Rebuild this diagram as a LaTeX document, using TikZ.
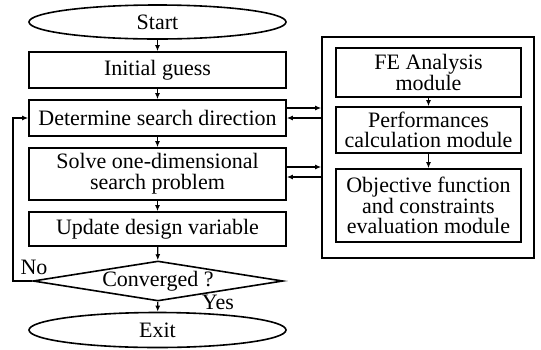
\documentclass[tikz,border=0pt]{standalone}
\usepackage{fontspec}
\setmainfont{Liberation Serif}
\usetikzlibrary{shapes.geometric,arrows.meta}

\begin{document}
\begin{tikzpicture}[x=0.5pt,y=-0.5pt,
  every node/.style={font=\fontsize{11pt}{10.3pt}\selectfont, align=center, inner sep=0pt},
  term/.style={draw, ellipse, line width=0.8pt, minimum width=128.5pt, minimum height=17pt},
  stepbox/.style={draw, rectangle, line width=0.8pt, minimum width=128.5pt},
  modbox/.style={draw, rectangle, line width=0.8pt, minimum width=92.5pt},
  arr/.style={-{Latex[length=3pt,width=2.5pt]}, line width=0.6pt}]
\useasboundingbox (0,0) rectangle (541,349);

% main loop
\node[term] (start) at (157.5,22) {Start};
\node[stepbox, minimum height=18pt] (init) at (157.5,70) {Initial guess};
\node[stepbox, minimum height=18pt] (dir) at (157.5,118) {Determine search direction};
\node[stepbox, minimum height=26pt] (solve) at (157.5,174) {Solve one-dimensional\\search problem};
\node[stepbox, minimum height=17pt] (upd) at (157.5,229) {Update design variable};
\node[draw, diamond, aspect=6, line width=0.8pt, minimum width=125pt, minimum height=20pt] (conv) at (158,281) {Converged ?};
\node[term, minimum height=17.5pt] (exit) at (157.5,330) {Exit};

\node (no) at (34,267) {No};
\node (yes) at (218,302) {Yes};

\draw[arr] (start) -- (init);
\draw[arr] (init) -- (dir);
\draw[arr] (dir) -- (solve);
\draw[arr] (solve) -- (upd);
\draw[arr] (upd) -- (conv);
\draw[arr] (conv) -- (exit);
\draw[arr] (conv.west) -- (conv.west -| 13,0) |- (dir.west);

% analysis modules
\node[draw, line width=0.8pt, minimum width=106pt, minimum height=110.5pt] (analysis) at (428,147.5) {};
\node[modbox, minimum height=24.5pt] (fe) at (428.5,72.5) {FE Analysis\\module};
\node[modbox, minimum height=23pt] (perf) at (428.5,130) {Performances\\calculation module};
\node[modbox, minimum height=36.5pt] (obj) at (428.5,205.5) {Objective function\\and constraints\\evaluation module};

\draw[arr] (fe) -- (perf);
\draw[arr] (perf) -- (obj);

\draw[arr] (dir.east |- 0,108) -- (analysis.west |- 0,108);
\draw[arr] (analysis.west |- 0,118) -- (dir.east |- 0,118);
\draw[arr] (solve.east |- 0,167) -- (analysis.west |- 0,167);
\draw[arr] (analysis.west |- 0,177) -- (solve.east |- 0,177);
\end{tikzpicture}
\end{document}
